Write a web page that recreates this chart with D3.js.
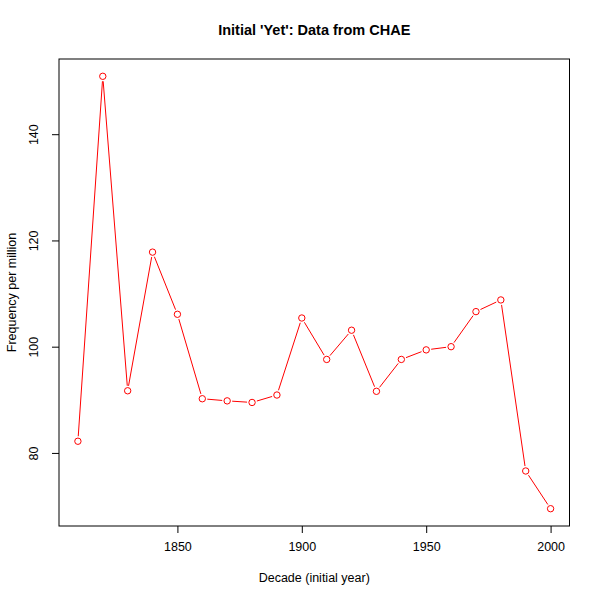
<!DOCTYPE html>
<html><head><meta charset="utf-8">
<script src="https://cdn.jsdelivr.net/npm/d3@7"></script>
<style>body{margin:0;background:#fff}svg{display:block}text{font-family:"Liberation Sans",Arial,sans-serif;}</style>
</head><body>
<script>
const decades = [1810,1820,1830,1840,1850,1860,1870,1880,1890,1900,1910,1920,1930,1940,1950,1960,1970,1980,1990,2000];
const freq = [82.2,150.9,91.7,117.8,106.1,90.2,89.8,89.5,90.9,105.4,97.6,103.1,91.6,97.6,99.4,100.0,106.6,108.8,76.6,69.5];
const xTicks = [1850,1900,1950,2000];
const yTicks = [80,100,120,140];
const title = "Initial 'Yet': Data from CHAE";
const xLabel = "Decade (initial year)";
const yLabel = "Frequency per million";

const W=600,H=600, L=59, R=569.5, T=59, B=526;
const svg=d3.select("body").append("svg").attr("width",W).attr("height",H);
const xmin=d3.min(decades), xmax=d3.max(decades), ymin=d3.min(freq), ymax=d3.max(freq);
const xp=(xmax-xmin)*0.04, yp=(ymax-ymin)*0.04;
const x=d3.scaleLinear().domain([xmin-xp,xmax+xp]).range([L,R]);
const y=d3.scaleLinear().domain([ymin-yp,ymax+yp]).range([B,T]);
const fs=12.5;

// box
svg.append("rect").attr("x",L).attr("y",T).attr("width",R-L).attr("height",B-T).attr("fill","none").attr("stroke","#000").attr("stroke-width",1);

// x axis
const xa=svg.append("g").attr("transform",`translate(0,${B})`).call(d3.axisBottom(x).tickValues(xTicks).tickSize(7).tickPadding(9).tickFormat(d3.format("d")));
xa.select(".domain").remove();
xa.selectAll("text").attr("font-size",fs).attr("font-family","Liberation Sans, Arial, sans-serif").attr("fill","#000");
const ya=svg.append("g").attr("transform",`translate(${L},0)`).call(d3.axisLeft(y).tickValues(yTicks).tickSize(7).tickFormat(d3.format("d")));
ya.select(".domain").remove();
ya.selectAll("text").attr("font-size",fs).attr("font-family","Liberation Sans, Arial, sans-serif").attr("fill","#000")
  .attr("text-anchor","middle").attr("x",0).attr("dy",0)
  .attr("transform","translate(-21,0) rotate(-90)");

// line segments with gaps
const pts=decades.map((d,i)=>[x(d),y(freq[i])]);
const gap=5;
for(let i=0;i<pts.length-1;i++){
  const [x1,y1]=pts[i],[x2,y2]=pts[i+1];
  const dx=x2-x1, dy=y2-y1, len=Math.hypot(dx,dy);
  if(len<=2*gap) continue;
  const ux=dx/len, uy=dy/len;
  svg.append("line").attr("x1",x1+ux*gap).attr("y1",y1+uy*gap).attr("x2",x2-ux*gap).attr("y2",y2-uy*gap)
    .attr("stroke","#ff0000").attr("stroke-width",1);
}
svg.selectAll("circle.pt").data(decades).join("circle").attr("class","pt")
  .attr("cx",d=>x(d)).attr("cy",(d,i)=>y(freq[i])).attr("r",3.2)
  .attr("fill","none").attr("stroke","#ff0000").attr("stroke-width",1);

svg.append("text").attr("x",(L+R)/2).attr("y",35).attr("text-anchor","middle").attr("font-size",14.5).attr("font-weight","bold").text(title);
svg.append("text").attr("x",(L+R)/2).attr("y",582).attr("text-anchor","middle").attr("font-size",fs).text(xLabel);
svg.append("text").attr("transform",`translate(16,${(T+B)/2}) rotate(-90)`).attr("text-anchor","middle").attr("font-size",fs).text(yLabel);
</script>
</body></html>
